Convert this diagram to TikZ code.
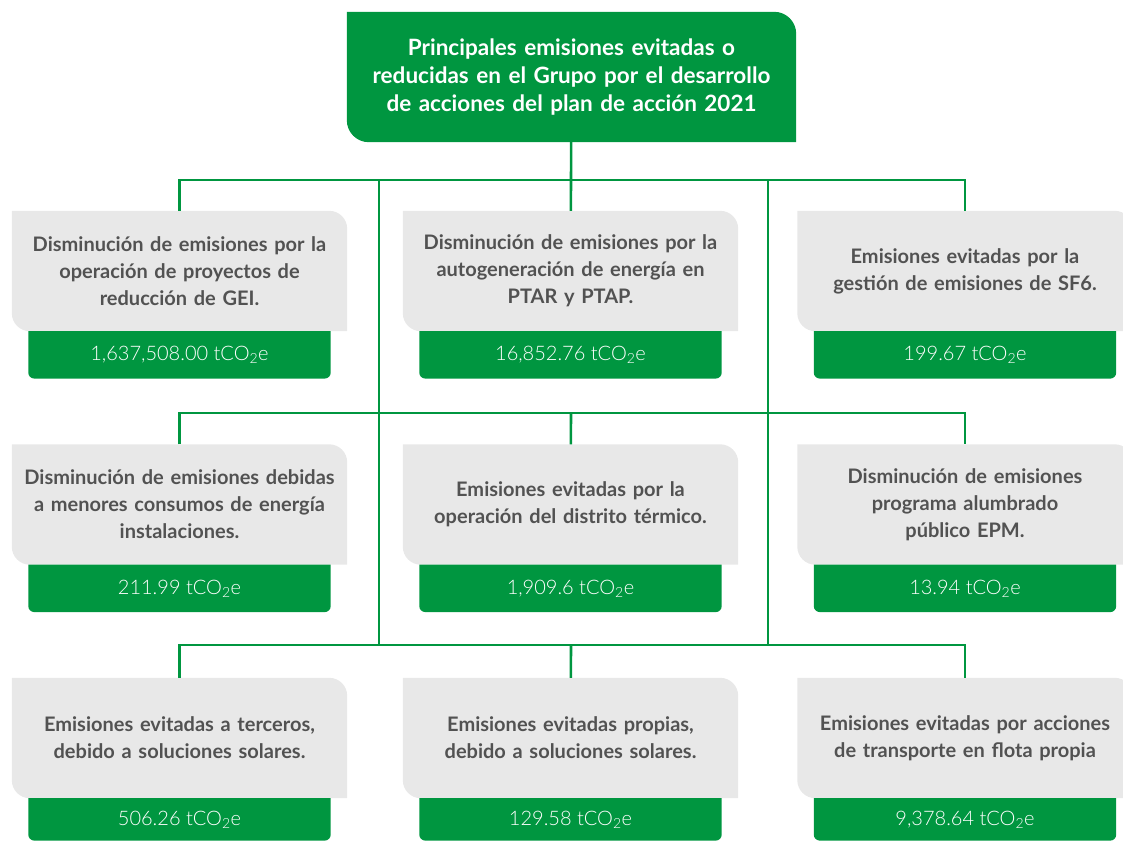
\documentclass[tikz,border=0pt]{standalone}
\usepackage{fontspec}
\setmainfont{Lato}
\newfontfamily\valfont{Lato Light}
\usetikzlibrary{positioning,calc,backgrounds}
\definecolor{epm}{HTML}{009640}
\definecolor{box}{HTML}{E8E8E8}
\definecolor{ink}{HTML}{525252}

\begin{document}
\begin{tikzpicture}[x=1pt, y=-1pt,
  linea/.style={draw=epm, line width=2.6pt},
  gris/.style={minimum width=335pt, minimum height=120pt, inner sep=0pt, text width=330pt, align=center, text=ink, font=\fontsize{20}{27}\selectfont\bfseries},
  valor/.style={minimum width=302pt, minimum height=47pt, inner sep=0pt, text=white, font=\valfont\fontsize{20}{24}\selectfont}]
\useasboundingbox (0,0) rectangle (1123,841);
\newcommand{\hoja}[3]{% node, fill, radius: rounded top right and bottom left
  \fill[#2] (#1.north west) -- ([xshift=-#3]#1.north east) arc[start angle=90, end angle=0, radius=#3]
    -- (#1.south east) -- ([xshift=#3]#1.south west) arc[start angle=270, end angle=180, radius=#3] -- cycle;}
\newcommand{\caja}[6][]{% value options, name, x, y, text, value
  \node[gris] (#2) at (#3,#4) {#5};
  \node[valor, below=0pt of #2, #1] (#2v) {#6};
  \begin{pgfonlayer}{background}
  \hoja{#2}{box}{18pt}
  \fill[epm] (#2v.north west) -- (#2v.north east) -- ([yshift=6pt]#2v.south east) arc[start angle=0, end angle=-90, radius=6pt]
    -- ([xshift=6pt]#2v.south west) arc[start angle=270, end angle=180, radius=6pt] -- cycle;
  \end{pgfonlayer}}
% head
\node[minimum width=449pt, minimum height=130pt, inner sep=0pt, text width=440pt, align=center, text=white,
  font=\fontsize{22.5}{28}\selectfont\bfseries] (titulo) at (571.5,77) {Principales emisiones evitadas o\\reducidas en el Grupo por el desarrollo\\de acciones del plan de acción 2021};
\begin{pgfonlayer}{background}\hoja{titulo}{epm}{22pt}\end{pgfonlayer}
% row 1
\caja{a1}{179.5}{271}{Disminución de emisiones por la\\operación de proyectos de\\reducción de GEI.}{1,637,508.00 tCO\textsubscript{2}e}
\caja{a2}{570.5}{271}{Disminución de emisiones por la\\autogeneración de energía en\\PTAR y PTAP.}{16,852.76 tCO\textsubscript{2}e}
\caja{a3}{965}{271}{Emisiones evitadas por la\\gestión de emisiones de SF6.}{199.67 tCO\textsubscript{2}e}
% row 2
\caja{b1}{179.5}{504.5}{Disminución de emisiones debidas\\a menores consumos de energía\\instalaciones.}{211.99 tCO\textsubscript{2}e}
\caja{b2}{570.5}{504.5}{Emisiones evitadas por la\\operación del distrito térmico.}{1,909.6 tCO\textsubscript{2}e}
\caja{b3}{965}{504.5}{Disminución de emisiones\\programa alumbrado\\público EPM.}{13.94 tCO\textsubscript{2}e}
% row 3
\caja[minimum height=42pt]{c1}{179.5}{738}{Emisiones evitadas a terceros,\\debido a soluciones solares.}{506.26 tCO\textsubscript{2}e}
\caja[minimum height=42pt]{c2}{570.5}{738}{Emisiones evitadas propias,\\debido a soluciones solares.}{129.58 tCO\textsubscript{2}e}
\caja[minimum height=42pt]{c3}{965}{738}{Emisiones evitadas por acciones\\de transporte en flota propia}{9,378.64 tCO\textsubscript{2}e}
% connectors
\coordinate (bus1) at (571,180);
\coordinate (bus2) at (571,413);
\coordinate (bus3) at (571,645);
\coordinate (ejeL) at (379,180);
\coordinate (ejeR) at (768,180);
\draw[linea] (titulo) -- (bus1) -- (a2);
\draw[linea] (a1) |- (bus1) -| (a3);
\draw[linea] (b1) |- (bus2) -| (b3);
\draw[linea] (bus2) -- (b2);
\draw[linea] (c1) |- (bus3) -| (c3);
\draw[linea] (bus3) -- (c2);
\draw[linea] (ejeL) -- (ejeL |- bus3);
\draw[linea] (ejeR) -- (ejeR |- bus3);
\end{tikzpicture}
\end{document}
